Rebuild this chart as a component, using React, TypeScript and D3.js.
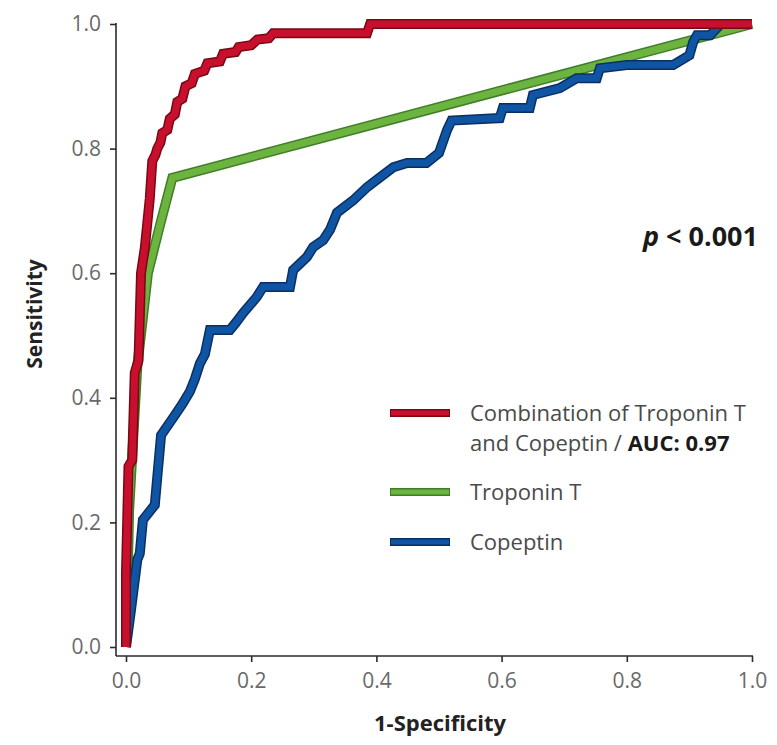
import React, { useEffect, useRef } from "react";
import * as d3 from "d3";

// ROC curves, [1-specificity, sensitivity]
const combinationRoc: [number, number][] = [
  [0, 0], [0, 0.12], [0.004, 0.29], [0.01, 0.3], [0.014, 0.44], [0.02, 0.46],
  [0.024, 0.6], [0.03, 0.64], [0.038, 0.72], [0.042, 0.78], [0.047, 0.79],
  [0.05, 0.8], [0.055, 0.81], [0.058, 0.825], [0.066, 0.83], [0.07, 0.848],
  [0.078, 0.855], [0.082, 0.875], [0.09, 0.88], [0.095, 0.9], [0.105, 0.905],
  [0.11, 0.92], [0.125, 0.925], [0.13, 0.937], [0.15, 0.94], [0.155, 0.952],
  [0.175, 0.955], [0.18, 0.963], [0.2, 0.966], [0.21, 0.975], [0.228, 0.977],
  [0.235, 0.985], [0.385, 0.985], [0.39, 1], [1, 1],
];

const troponinRoc: [number, number][] = [
  [0, 0], [0.005, 0.22], [0.018, 0.45], [0.035, 0.6], [0.055, 0.68], [0.074, 0.753], [1, 1],
];

const copeptinRoc: [number, number][] = [
  [0, 0], [0.008, 0.06], [0.018, 0.14], [0.022, 0.15], [0.027, 0.204],
  [0.046, 0.228], [0.05, 0.273], [0.056, 0.34], [0.078, 0.372], [0.09, 0.39],
  [0.102, 0.41], [0.11, 0.43], [0.118, 0.455], [0.126, 0.47], [0.134, 0.509],
  [0.166, 0.509], [0.175, 0.52], [0.187, 0.536], [0.209, 0.562], [0.219, 0.578],
  [0.262, 0.578], [0.267, 0.605], [0.289, 0.626], [0.299, 0.642], [0.315, 0.653],
  [0.326, 0.67], [0.337, 0.697], [0.363, 0.717], [0.385, 0.738], [0.406, 0.754],
  [0.427, 0.77], [0.449, 0.777], [0.48, 0.777], [0.5, 0.793], [0.513, 0.83],
  [0.52, 0.845], [0.597, 0.849], [0.602, 0.865], [0.645, 0.865], [0.65, 0.886],
  [0.693, 0.897], [0.72, 0.913], [0.752, 0.913], [0.757, 0.929], [0.8, 0.934],
  [0.874, 0.934], [0.9, 0.95], [0.906, 0.971], [0.912, 0.982], [0.933, 0.982],
  [0.95, 1], [1, 1],
];

const tickValues = [0, 0.2, 0.4, 0.6, 0.8, 1.0];
const legendLabels = ["Combination of Troponin T", "Troponin T", "Copeptin"];

const FONT = "'Open Sans', 'Noto Sans', sans-serif";

const App = () => {
  const ref = useRef<SVGSVGElement>(null);

  useEffect(() => {
    const svg = d3.select(ref.current);
    svg.selectAll("*").remove();

    const width = 777;
    const height = 745;
    svg.attr("width", width).attr("height", height);

    const x = d3.scaleLinear().domain([0, 1]).range([126, 752]);
    const y = d3.scaleLinear().domain([0, 1]).range([647, 24]);
    const axisX = 116;
    const axisY = 656;

    // Axis lines
    svg.append("line")
      .attr("x1", axisX).attr("x2", axisX)
      .attr("y1", y(1) - 1).attr("y2", axisY)
      .attr("stroke", "#2b2b2b").attr("stroke-width", 1.6);
    svg.append("line")
      .attr("x1", axisX).attr("x2", x(1) + 1)
      .attr("y1", axisY).attr("y2", axisY)
      .attr("stroke", "#2b2b2b").attr("stroke-width", 1.6);

    // Y axis
    const gy = svg.append("g")
      .attr("transform", `translate(${axisX},0)`)
      .call(d3.axisLeft(y).tickValues(tickValues).tickFormat(d3.format(".1f")).tickSize(6).tickPadding(9));
    gy.select(".domain").remove();
    gy.selectAll("line").attr("stroke", "#2b2b2b").attr("stroke-width", 1.6);
    gy.selectAll("text")
      .attr("font-family", FONT).attr("font-size", 21).attr("fill", "#6a6a6a");

    // X axis
    const gx = svg.append("g")
      .attr("transform", `translate(0,${axisY})`)
      .call(d3.axisBottom(x).tickValues(tickValues).tickFormat(d3.format(".1f")).tickSize(6).tickPadding(11));
    gx.select(".domain").remove();
    gx.selectAll("line").attr("stroke", "#2b2b2b").attr("stroke-width", 1.6);
    gx.selectAll("text")
      .attr("font-family", FONT).attr("font-size", 21).attr("fill", "#6a6a6a");

    // Axis titles
    svg.append("text")
      .attr("x", 440).attr("y", 731)
      .attr("text-anchor", "middle")
      .attr("font-family", FONT).attr("font-size", 22).attr("font-weight", "bold")
      .attr("fill", "#222")
      .text("1-Specificity");
    svg.append("text")
      .attr("transform", "translate(42,314) rotate(-90)")
      .attr("text-anchor", "middle")
      .attr("font-family", FONT).attr("font-size", 21).attr("font-weight", "bold")
      .attr("fill", "#222")
      .text("Sensitivity");

    // Curves
    const line = d3.line<[number, number]>()
      .x(d => x(d[0]))
      .y(d => y(d[1]));

    const series = [
      { data: troponinRoc, color: "#6cb33f", edge: "#3f7f27" },
      { data: copeptinRoc, color: "#0f55a3", edge: "#0a2f62" },
      { data: combinationRoc, color: "#c8102e", edge: "#780812" },
    ];

    series.forEach(s => {
      svg.append("path")
        .datum(s.data)
        .attr("d", line)
        .attr("fill", "none")
        .attr("stroke", s.edge)
        .attr("stroke-width", 10)
        .attr("stroke-linejoin", "miter")
        .attr("stroke-miterlimit", 3);
      svg.append("path")
        .datum(s.data)
        .attr("d", line)
        .attr("fill", "none")
        .attr("stroke", s.color)
        .attr("stroke-width", 7)
        .attr("stroke-linejoin", "miter")
        .attr("stroke-miterlimit", 3);
    });

    // p value
    const pText = svg.append("text")
      .attr("x", 758).attr("y", 246)
      .attr("text-anchor", "end")
      .attr("font-family", FONT).attr("font-size", 27).attr("font-weight", "bold")
      .attr("fill", "#1a1a1a");
    pText.append("tspan").attr("font-style", "italic").text("p");
    pText.append("tspan").text(" < 0.001");

    // Legend
    const legendItems = [
      { label: legendLabels[0], color: "#c8102e", edge: "#780812", y: 413 },
      { label: legendLabels[1], color: "#6cb33f", edge: "#3f7f27", y: 492 },
      { label: legendLabels[2], color: "#0f55a3", edge: "#0a2f62", y: 542 },
    ];
    legendItems.forEach(item => {
      svg.append("line")
        .attr("x1", 390).attr("x2", 450)
        .attr("y1", item.y).attr("y2", item.y)
        .attr("stroke", item.edge).attr("stroke-width", 8);
      svg.append("line")
        .attr("x1", 391).attr("x2", 449)
        .attr("y1", item.y).attr("y2", item.y)
        .attr("stroke", item.color).attr("stroke-width", 5);
      svg.append("text")
        .attr("x", 470).attr("y", item.y + 8)
        .attr("font-family", FONT).attr("font-size", 22)
        .attr("fill", "#4a4a4a")
        .text(item.label);
    });
    const second = svg.append("text")
      .attr("x", 470).attr("y", 451)
      .attr("font-family", FONT).attr("font-size", 22)
      .attr("fill", "#4a4a4a");
    second.append("tspan").text("and Copeptin / ");
    second.append("tspan").attr("font-weight", "bold").attr("fill", "#1a1a1a").text("AUC: 0.97");
  }, []);

  return (
    <svg ref={ref} style={{ position: "absolute", left: 0, top: 0, background: "#fff" }}></svg>
  );
};

export default App;
